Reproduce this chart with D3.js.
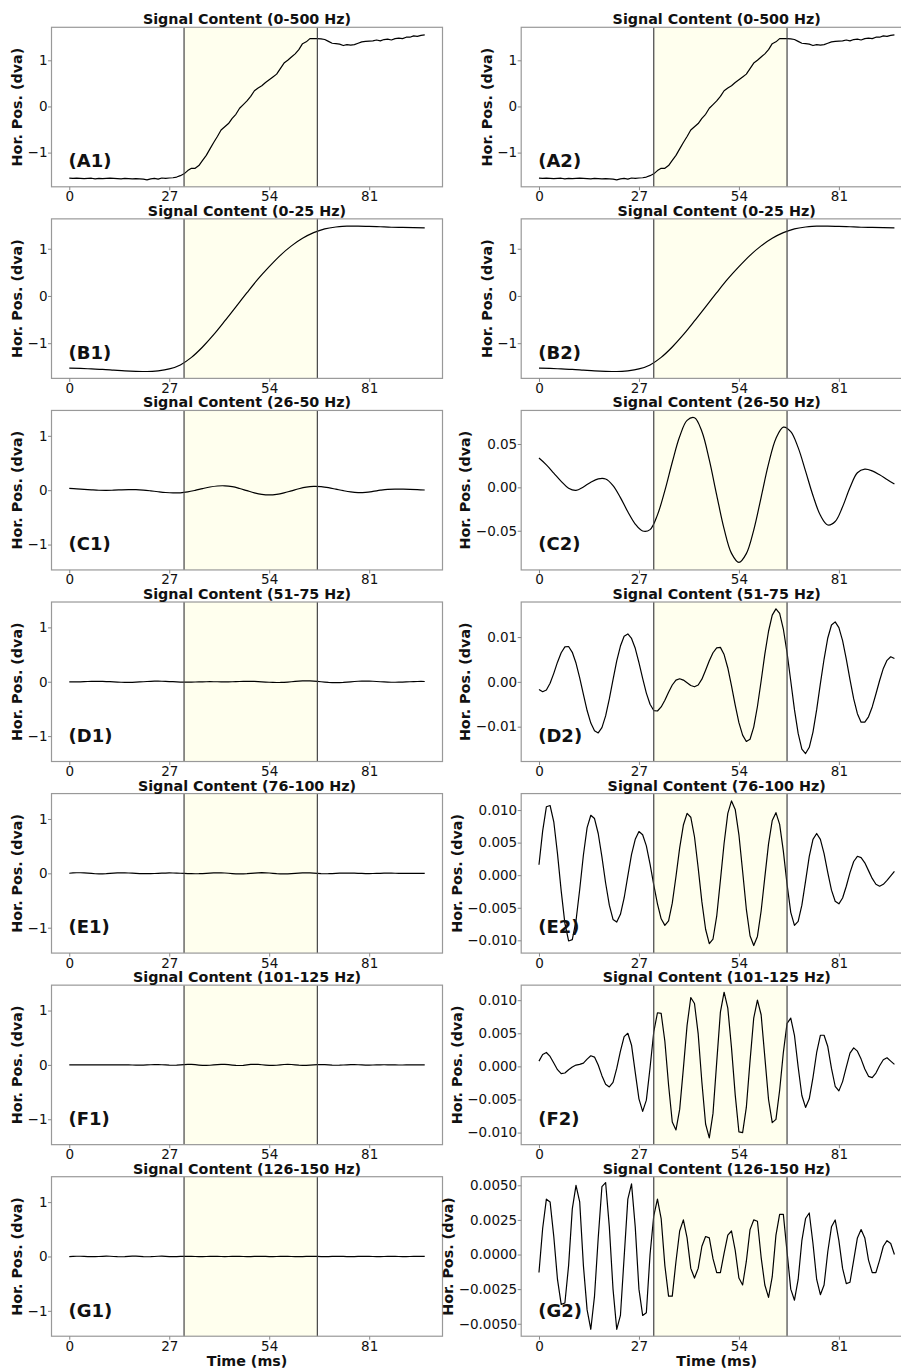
<!DOCTYPE html>
<html><head><meta charset="utf-8">
<script src="https://cdn.jsdelivr.net/npm/d3@7"></script>
<style>body{margin:0;background:#fff} svg{display:block}</style>
</head><body>
<svg id="chart" width="901" height="1368"></svg>
<script>
// ---------------- data ----------------
const bandTitles = ["Signal Content (0-500 Hz)","Signal Content (0-25 Hz)","Signal Content (26-50 Hz)",
  "Signal Content (51-75 Hz)","Signal Content (76-100 Hz)","Signal Content (101-125 Hz)","Signal Content (126-150 Hz)"];
const panelTags = ["A","B","C","D","E","F","G"];
const xTicks = [0,27,54,81];
const xLimits = [-4.8, 100.8];
const windowStart = 31, windowEnd = 67;
const xLabel = "Time (ms)";
const yLabel = "Hor. Pos. (dva)";

// sample spacing (ms) of each series
const sampleStepMs = [1,3,2,1,1,1,1];

const seriesA = [-1.555,-1.56,-1.555,-1.56,-1.565,-1.56,-1.555,-1.57,-1.56,-1.565,-1.56,-1.555,-1.56,-1.565,-1.57,-1.56,-1.565,-1.57,-1.565,-1.57,
  -1.575,-1.59,-1.57,-1.56,-1.575,-1.55,-1.56,-1.55,-1.545,-1.53,
  -1.50,-1.46,-1.39,-1.34,-1.34,-1.28,-1.17,-1.06,-0.92,-0.78,-0.65,-0.51,-0.44,-0.37,-0.26,-0.17,-0.04,0.04,0.12,0.22,
  0.34,0.40,0.45,0.52,0.58,0.64,0.70,0.82,0.94,1.00,1.07,1.14,1.23,1.36,1.40,1.47,1.47,1.47,1.465,1.45,
  1.41,1.37,1.36,1.35,1.32,1.34,1.33,1.34,1.37,1.40,1.41,1.415,1.42,1.44,1.42,1.45,1.46,1.44,1.47,1.48,
  1.47,1.50,1.50,1.53,1.52,1.54,1.55];
const seriesB = [-1.53,-1.535,-1.545,-1.555,-1.57,-1.585,-1.595,-1.60,-1.585,-1.545,-1.46,-1.30,-1.08,-0.82,-0.53,-0.23,
  0.07,0.36,0.62,0.86,1.06,1.22,1.34,1.42,1.46,1.48,1.48,1.475,1.465,1.455,1.45,1.445,1.44];
const seriesC = [0.0338,0.026,0.0165,0.007,-0.001,-0.0035,0.0005,0.006,0.0098,0.0097,0.0021,-0.0118,-0.0282,-0.0423,-0.0503,
  -0.0487,-0.0317,-0.0038,0.029,0.0586,0.0772,0.0803,0.0644,0.0316,-0.0089,-0.0479,-0.0761,-0.0865,-0.0764,-0.0492,
  -0.0114,0.027,0.0564,0.0694,0.0643,0.0458,0.0187,-0.0094,-0.0322,-0.0434,-0.0394,-0.0224,-0.0002,0.0168,0.021,
  0.019,0.0145,0.009,0.0038];
const seriesD = [-0.0017,-0.0022,-0.0018,-0.0003,0.0019,0.0044,0.0065,0.0078,0.0079,0.0066,0.0042,0.0009,-0.0028,-0.0064,-0.0092,
  -0.0109,-0.0114,-0.0102,-0.0076,-0.0038,0.0005,0.0047,0.0080,0.0102,0.0107,0.0097,0.0075,0.0043,0.0008,-0.0025,
  -0.0050,-0.0064,-0.0065,-0.0056,-0.0041,-0.0023,-0.0007,0.0004,0.0007,0.0004,-0.0002,-0.0008,-0.0011,-0.0007,0.0006,
  0.0026,0.0047,0.0065,0.0076,0.0077,0.0061,0.0031,-0.0009,-0.0052,-0.0091,-0.0119,-0.0133,-0.0128,-0.0101,-0.0055,
  0.0002,0.0062,0.0113,0.0149,0.0163,0.0153,0.0118,0.0065,0.0002,-0.0062,-0.0115,-0.0150,-0.0160,-0.0146,-0.0112,
  -0.0062,-0.0004,0.0051,0.0098,0.0127,0.0134,0.0121,0.0092,0.0051,0.0005,-0.0038,-0.0071,-0.0090,-0.0090,-0.0078,
  -0.0056,-0.0027,0.0003,0.0030,0.0048,0.0056,0.0052];
const seriesE = [0.0016,0.0068,0.0105,0.0107,0.0082,0.0033,-0.0024,-0.0074,-0.0101,-0.0099,-0.0070,-0.0022,0.0031,0.0073,0.0092,
  0.0087,0.0064,0.0028,-0.0012,-0.0046,-0.0068,-0.0072,-0.0060,-0.0035,-0.0001,0.0032,0.0055,0.0067,0.0062,0.0045,
  0.0017,-0.0015,-0.0044,-0.0067,-0.0077,-0.0070,-0.0043,-0.0002,0.0042,0.0077,0.0095,0.0089,0.0059,0.0011,-0.0041,
  -0.0083,-0.0105,-0.0098,-0.0063,-0.0008,0.0049,0.0095,0.0114,0.0101,0.0062,0.0006,-0.0052,-0.0093,-0.0108,-0.0094,
  -0.0055,-0.0003,0.0048,0.0084,0.0096,0.0078,0.0037,-0.0014,-0.0057,-0.0077,-0.0071,-0.0046,-0.0009,0.0029,0.0055,
  0.0064,0.0055,0.0033,0.0004,-0.0023,-0.0040,-0.0044,-0.0035,-0.0017,0.0004,0.0021,0.0029,0.0027,0.0019,0.0007,
  -0.0005,-0.0014,-0.0017,-0.0014,-0.0008,-0.0001,0.0006];
const seriesF = [0.0008,0.0018,0.0021,0.0015,0.0005,-0.0005,-0.0011,-0.0010,-0.0005,-0.0001,0.0002,0.0003,0.0005,0.0011,0.0016,
  0.0014,0.0002,-0.0014,-0.0027,-0.0031,-0.0024,-0.0003,0.0023,0.0045,0.0050,0.0032,-0.0009,-0.0049,-0.0068,-0.0051,
  -0.0002,0.0052,0.0081,0.0080,0.0038,-0.0028,-0.0084,-0.0096,-0.0065,-0.0003,0.0062,0.0104,0.0095,0.0049,-0.0024,
  -0.0087,-0.0108,-0.0071,0.0006,0.0082,0.0112,0.0088,0.0028,-0.0043,-0.0099,-0.0100,-0.0062,0.0008,0.0073,0.0100,
  0.0078,0.0014,-0.0050,-0.0085,-0.0080,-0.0036,0.0021,0.0065,0.0073,0.0047,-0.0001,-0.0044,-0.0062,-0.0049,-0.0017,
  0.0021,0.0047,0.0047,0.0030,-0.0003,-0.0030,-0.0037,-0.0023,-0.0001,0.0020,0.0028,0.0023,0.0011,-0.0004,-0.0015,
  -0.0017,-0.0010,0.0001,0.0010,0.0013,0.0008,0.0003];
const seriesG = [-0.0013,0.0019,0.0040,0.0038,0.0013,-0.0018,-0.0036,-0.0035,-0.0008,0.0033,0.0050,0.0038,-0.0008,-0.0040,-0.0054,
  -0.0030,0.0012,0.0049,0.0052,0.0020,-0.0025,-0.0054,-0.0044,-0.0002,0.0040,0.0051,0.0020,-0.0025,-0.0044,-0.0042,
  0.0000,0.0028,0.0040,0.0026,-0.0008,-0.0030,-0.0030,-0.0005,0.0017,0.0025,0.0012,-0.0010,-0.0017,-0.0010,0.0006,
  0.0013,0.0012,-0.0003,-0.0013,-0.0013,0.0001,0.0014,0.0017,0.0003,-0.0017,-0.0022,-0.0005,0.0018,0.0025,0.0024,
  -0.0002,-0.0022,-0.0031,-0.0016,0.0014,0.0029,0.0029,0.0002,-0.0025,-0.0033,-0.0018,0.0010,0.0026,0.0030,0.0008,
  -0.0018,-0.0029,-0.0022,0.0002,0.0020,0.0025,0.0010,-0.0010,-0.0021,-0.0020,-0.0004,0.0012,0.0018,0.0012,-0.0004,
  -0.0013,-0.0013,-0.0004,0.0006,0.0010,0.0008,0.0000];

const leftYLimits = [[-1.741,1.715],[-1.745,1.632],[-1.467,1.467],[-1.467,1.467],[-1.467,1.467],[-1.467,1.467],[-1.467,1.467]];
const rightYLimits = [[-1.741,1.715],[-1.745,1.632],[-0.0952,0.0887],[-0.01778,0.01783],[-0.01196,0.01253],[-0.01182,0.01227],[-0.0059,0.00562]];
const leftYTicks = [-1,0,1];
const rightYTicks = [[-1,0,1],[-1,0,1],[-0.05,0,0.05],[-0.01,0,0.01],
  [-0.01,-0.005,0,0.005,0.01],[-0.01,-0.005,0,0.005,0.01],[-0.005,-0.0025,0,0.0025,0.005]];
const rightYFormats = ["d","d",".2f",".2f",".3f",".3f",".4f"];

// ---------------- drawing ----------------
const series = [seriesA,seriesB,seriesC,seriesD,seriesE,seriesF,seriesG];
const curves = [d3.curveLinear, d3.curveMonotoneX, d3.curveCatmullRom.alpha(0.5), d3.curveLinear, d3.curveLinear, d3.curveLinear, d3.curveLinear];
const FONT = "'DejaVu Sans', sans-serif";
const SHADE = "#ffffee";
const colX = [51.5, 521.2], axW = 391, axH = 159.5, top0 = 27.3, pitch = 191.57;
const svg = d3.select("#chart");

for (let r = 0; r < 7; r++) {
  for (let c = 0; c < 2; c++) {
    const x0 = colX[c], y0 = top0 + r * pitch;
    const g = svg.append("g").attr("transform", `translate(${x0},${y0})`);
    const x = d3.scaleLinear().domain(xLimits).range([0, axW]);
    const y = d3.scaleLinear().domain(c === 0 ? leftYLimits[r] : rightYLimits[r]).range([axH, 0]);

    g.append("rect").attr("x", x(windowStart)).attr("y", 0)
      .attr("width", x(windowEnd) - x(windowStart)).attr("height", axH).attr("fill", SHADE);

    const clipId = `clip-${r}-${c}`;
    g.append("clipPath").attr("id", clipId).append("rect").attr("width", axW).attr("height", axH);

    const pts = series[r].map((v, i) => [i * sampleStepMs[r], v]);
    g.append("path").datum(pts).attr("clip-path", `url(#${clipId})`)
      .attr("d", d3.line().x(d => x(d[0])).y(d => y(d[1])).curve(curves[r]))
      .attr("fill", "none").attr("stroke", "#000").attr("stroke-width", 1.2).attr("stroke-linejoin", "round");

    [windowStart, windowEnd].forEach(t => {
      g.append("line").attr("x1", x(t)).attr("x2", x(t)).attr("y1", 0).attr("y2", axH)
        .attr("stroke", "#444").attr("stroke-width", 1.2);
    });

    g.append("rect").attr("width", axW).attr("height", axH).attr("fill", "none")
      .attr("stroke", "#999").attr("stroke-width", 1.2);

    const xa = g.append("g").attr("transform", `translate(0,${axH})`)
      .call(d3.axisBottom(x).tickValues(xTicks).tickSize(3.5).tickPadding(1.4).tickFormat(d3.format("d")));
    const ya = g.append("g")
      .call(d3.axisLeft(y).tickValues(c === 0 ? leftYTicks : rightYTicks[r]).tickSize(3.5).tickPadding(0.5)
        .tickFormat(d3.format(c === 0 ? "d" : rightYFormats[r])));
    [xa, ya].forEach(a => {
      a.attr("font-family", FONT).attr("font-size", 13.5);
      a.select(".domain").remove();
      a.selectAll(".tick line").attr("stroke", "#888").attr("stroke-width", 1);
      a.selectAll(".tick text").attr("fill", "#111");
    });

    const bb = ya.node().getBBox();
    g.append("text").attr("transform", `translate(${bb.x - 5.5},${axH / 2}) rotate(-90)`)
      .attr("text-anchor", "middle").attr("font-family", FONT).attr("font-weight", "bold")
      .attr("font-size", 14.3).attr("fill", "#111").text(yLabel);

    g.append("text").attr("x", axW / 2).attr("y", -3).attr("text-anchor", "middle")
      .attr("font-family", FONT).attr("font-weight", "bold").attr("font-size", 14.3).attr("fill", "#111")
      .text(bandTitles[r]);

    g.append("text").attr("x", 17).attr("y", axH - 19.6)
      .attr("font-family", FONT).attr("font-weight", "bold").attr("font-size", 18).attr("fill", "#111")
      .text(`(${panelTags[r]}${c + 1})`);

    if (r === 6) {
      g.append("text").attr("x", axW / 2).attr("y", axH + 29.4).attr("text-anchor", "middle")
        .attr("font-family", FONT).attr("font-weight", "bold").attr("font-size", 14.3).attr("fill", "#111")
        .text(xLabel);
    }
  }
}
</script>
</body></html>
